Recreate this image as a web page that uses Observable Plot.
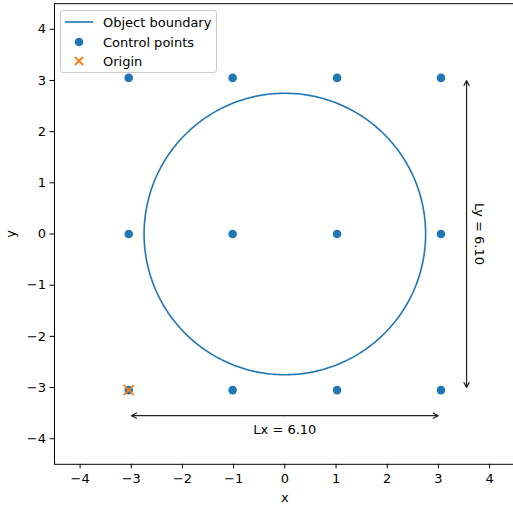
<!DOCTYPE html>
<html>
<head>
<meta charset="utf-8">
<script src="https://cdn.jsdelivr.net/npm/d3@7"></script>
<script src="https://cdn.jsdelivr.net/npm/@observablehq/plot@0.6"></script>
<style>
  html, body { margin: 0; padding: 0; background: white; overflow: hidden; }
  #wrap { position: relative; width: 513px; height: 508px; overflow: hidden; font-family: "DejaVu Sans", sans-serif; }
  #wrap > svg { max-width: none !important; display: block; }
  #legend {
    position: absolute; left: 60px; top: 10px; width: 155px; height: 61px;
    border: 1px solid #cccccc; border-radius: 3px; background: rgba(255,255,255,0.8);
    font-size: 13px; color: #000;
  }
  #legend .row { position: absolute; left: 0; height: 20px; display: flex; align-items: center; }
  #legend .row svg { margin-left: 3px; }
  #legend .row span { margin-left: 9px; white-space: nowrap; }
</style>
</head>
<body>
<div id="wrap"></div>
<script>
// Control point grid (x columns, y rows)
const ctrlXs = [-3.05, -1.02, 1.02, 3.05];
const ctrlYs = [-3.05, 0, 3.05];
// Lattice origin
const originX = [-3.05];
const originY = [-3.05];
// Circular object boundary
const boundaryRadius = 2.75;
// Lattice extents
const Lx = 6.10;
const Ly = 6.10;
// Axis ticks
const xTicks = [-4, -3, -2, -1, 0, 1, 2, 3, 4];
const yTicks = [-4, -3, -2, -1, 0, 1, 2, 3, 4];
// Legend entries
const legendLabels = ["Object boundary", "Control points", "Origin"];

const blue = "#1f77b4";
const orange = "#ff7f0e";
const fmt = d => (d < 0 ? "\u2212" + Math.abs(d) : String(d));

const controlPoints = ctrlYs.flatMap(y => ctrlXs.map(x => ({x, y})));
const origin = originX.map((x, i) => ({x, y: originY[i]}));

// boundary outline sampled around the circle
const circle = d3.range(0, 361).map(a => {
  const t = a * Math.PI / 180;
  return {x: boundaryRadius * Math.cos(t), y: boundaryRadius * Math.sin(t)};
});

// dimension arrows sit half a unit outside the lattice
const x0 = originX[0], y0 = originY[0];
const arrowY = y0 - 0.5;
const arrowX = x0 + Lx + 0.5;
const midX = x0 + Lx / 2;
const midY = y0 + Ly / 2;
const arrows = [
  {x1: midX, y1: arrowY, x2: x0, y2: arrowY},
  {x1: midX, y1: arrowY, x2: x0 + Lx, y2: arrowY},
  {x1: arrowX, y1: midY, x2: arrowX, y2: y0},
  {x1: arrowX, y1: midY, x2: arrowX, y2: y0 + Ly}
];

const chart = Plot.plot({
  width: 530,
  height: 508,
  marginLeft: 54,
  marginRight: 15.3,
  marginTop: 3.2,
  marginBottom: 44.2,
  x: {domain: [-4.5, 4.5]},
  y: {domain: [-4.5, 4.5]},
  style: {fontFamily: "DejaVu Sans", fontSize: "13px", color: "black", background: "white", maxWidth: "none"},
  marks: [
    Plot.axisX({ticks: xTicks, tickFormat: fmt, tickSize: 4.5, tickPadding: 5, label: "x", labelAnchor: "center", labelOffset: 38, labelArrow: "none", fontSize: 13}),
    Plot.axisY({ticks: yTicks, tickFormat: fmt, tickSize: 4.5, tickPadding: 4, label: "y", labelAnchor: "center", labelOffset: 49, labelArrow: "none", fontSize: 13}),
    Plot.line(circle, {x: "x", y: "y", stroke: blue, strokeWidth: 1.6}),
    Plot.dot(controlPoints, {x: "x", y: "y", fill: blue, r: 4.3}),
    Plot.dot(origin, {x: "x", y: "y", symbol: "times", stroke: orange, strokeWidth: 1.8, r: 4.6}),
    Plot.arrow(arrows, {x1: "x1", y1: "y1", x2: "x2", y2: "y2", stroke: "#222", strokeWidth: 1.2, headLength: 7, headAngle: 55, insetEnd: 2.7}),
    Plot.text([{x: midX, y: arrowY - 0.27}], {x: "x", y: "y", text: () => `Lx = ${Lx.toFixed(2)}`, fontSize: 13, fill: "black"}),
    Plot.text([{x: arrowX + 0.24, y: midY}], {x: "x", y: "y", text: () => `Ly = ${Ly.toFixed(2)}`, rotate: 90, fontSize: 13, fill: "black"}),
    Plot.frame({stroke: "black", strokeWidth: 1})
  ]
});

const wrap = document.getElementById("wrap");
wrap.appendChild(chart);

// legend drawn over the upper-left of the axes
const legend = document.createElement("div");
legend.id = "legend";
const symbols = [
  `<svg width="30" height="10"><line x1="1" y1="5" x2="29" y2="5" stroke="${blue}" stroke-width="1.6"/></svg>`,
  `<svg width="30" height="10"><circle cx="15" cy="5" r="4.3" fill="${blue}"/></svg>`,
  `<svg width="30" height="12"><path d="M11,2L19,10M19,2L11,10" stroke="${orange}" stroke-width="1.8"/></svg>`
];
const rowTops = [1, 21, 40];
legendLabels.forEach((label, i) => {
  const row = document.createElement("div");
  row.className = "row";
  row.style.top = rowTops[i] + "px";
  row.innerHTML = symbols[i] + `<span>${label}</span>`;
  legend.appendChild(row);
});
wrap.appendChild(legend);
</script>
</body>
</html>
